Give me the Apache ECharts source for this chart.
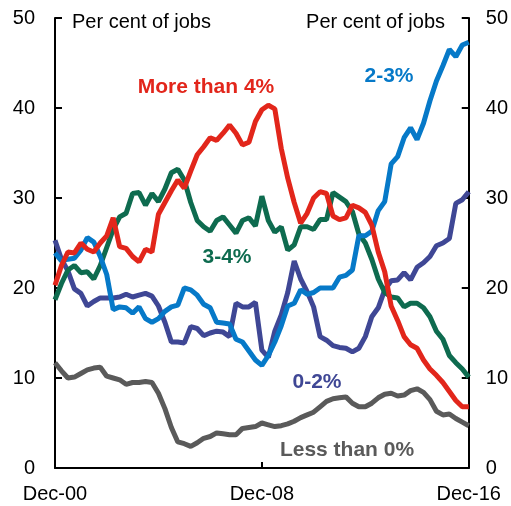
<!DOCTYPE html>
<html>
<head>
<meta charset="utf-8">
<script src="https://cdn.jsdelivr.net/npm/echarts@6/dist/echarts.min.js"></script>
<style>
  html, body { margin: 0; padding: 0; background: #fff; }
  #main { width: 511px; height: 506px; }
</style>
</head>
<body>
<div id="main"></div>
<script>
// quarterly, Dec-00 to Dec-16
const tickLabels = ['Dec-00', 'Dec-08', 'Dec-16']
const months = ['Mar', 'Jun', 'Sep', 'Dec']

const moreThan4 = [20.3, 22.5, 24, 23.9, 25, 24.3, 24, 25, 25.8, 27.8, 24.6, 24.4, 23.5, 22.9, 24.3, 24,
  28.2, 29.5, 30.8, 32, 31.1, 33, 34.8, 35.7, 36.7, 36.4, 37.2, 38.1, 37.2, 35.9, 36.2, 38.5,
  39.8, 40.3, 39.9, 35.5, 32.2, 29.5, 27.2, 28.3, 30, 30.7, 30.5, 28, 27.6, 27.8, 29.2, 28.9,
  28.4, 27, 24, 21.8, 18, 16.4, 14.6, 13.7, 13.3, 12, 11, 10.3, 9.5, 8.5, 7.5, 6.8, 6.8]
const threeTo4 = [18.7, 20.5, 22, 22.5, 21.7, 21.8, 21, 22.5, 24.5, 26.5, 27.9, 28.3, 30.5, 30.6, 29.2, 30.5,
  29.6, 31, 32.8, 33.2, 32, 29.5, 27.5, 26.8, 26.3, 27.5, 27.9, 27, 26.1, 27.5, 27.8, 26.9,
  30.2, 27.5, 26.2, 26.8, 24.2, 24.8, 26.8, 26.8, 26.5, 27.6, 27.6, 30.6, 30.1, 29.6, 28.5, 26,
  25, 23.2, 21, 19.5, 19, 18.9, 17.9, 18.3, 18.3, 17.8, 16.8, 15.2, 14.3, 12.5, 11.7, 11, 10.1]
const twoTo3 = [23.9, 23, 23.2, 23.3, 24.2, 25.6, 25.1, 23.5, 21.5, 17.6, 17.9, 17.8, 17.2, 17.9, 16.6, 16.2,
  16.6, 17.4, 17.9, 18.1, 20, 19.8, 19.2, 18.2, 17.8, 16.2, 16.1, 16, 14.3, 14, 13, 12,
  11.4, 12.5, 14, 15.8, 18, 18.3, 19.8, 19.3, 19.5, 20, 20, 20, 21.2, 21.4, 22, 25.8,
  25.8, 26.3, 28.6, 29.6, 33.8, 34.6, 36.7, 37.8, 36.5, 38.3, 40.8, 43, 44.7, 46.5, 45.7, 47, 47.3]
const zeroTo2 = [25.3, 23.2, 21.9, 19.9, 19.4, 18, 18.5, 18.9, 18.9, 18.9, 19, 19.3, 19, 19.2, 19.4, 19.1,
  18, 16.2, 14, 14, 13.9, 15.7, 15.5, 14.7, 15, 15.2, 15.1, 14.6, 18.3, 17.9, 17.9, 18.4,
  13.1, 12.3, 15.2, 17, 19.5, 23, 21, 19.6, 17.9, 14.6, 14.2, 13.6, 13.4, 13.3, 12.9, 13.3,
  14.6, 16.8, 17.8, 19.8, 20.8, 20.9, 21.7, 20.9, 22.3, 22.8, 23.5, 24.7, 25, 25.5, 29.4, 29.8, 30.7]
const lessThan0 = [11.7, 10.8, 10, 10.1, 10.5, 10.9, 11.1, 11.2, 10.2, 10, 9.8, 9.3, 9.5, 9.5, 9.6, 9.5,
  8.3, 6.6, 4.5, 2.9, 2.7, 2.4, 2.8, 3.3, 3.5, 3.9, 3.8, 3.7, 3.7, 4.4, 4.5, 4.6,
  5, 4.8, 4.6, 4.7, 4.9, 5.2, 5.6, 5.9, 6.2, 6.8, 7.4, 7.7, 7.8, 7.9, 7.2, 6.8,
  6.8, 7.2, 7.8, 8.2, 8.3, 8, 8.1, 8.6, 8.8, 8.4, 7.6, 6.3, 5.9, 6, 5.5, 5.1, 4.7]

// category labels Dec-00 ... Dec-16
let quarters = ['Dec-00']
for (let y = 1; y <= 16; y++) {
  for (let m = 0; m < 4; m++) {
    quarters.push(months[m] + '-' + String(y).padStart(2, '0'))
  }
}

const font = 'Liberation Sans, Arial, sans-serif'

let myChart = echarts.init(document.getElementById('main'))

function yAxisOpt(pos) {
  return {
    type: 'value',
    position: pos,
    min: 0,
    max: 50,
    interval: 10,
    axisLine: { show: true, lineStyle: { color: '#000', width: 2 } },
    axisTick: { show: true, inside: true, length: 7, lineStyle: { color: '#000', width: 2 } },
    axisLabel: { color: '#000', fontSize: 20, fontFamily: font, margin: pos === 'left' ? 20 : 17 },
    splitLine: { show: false }
  }
}

function line(name, data, color) {
  return {
    name: name,
    type: 'line',
    data: data,
    symbol: 'none',
    lineStyle: { color: color, width: 5 },
    itemStyle: { color: color }
  }
}

function label(text, x, y, color) {
  return {
    type: 'text',
    x: x,
    y: y,
    style: {
      text: text,
      fill: color,
      font: 'bold 21px ' + font,
      align: 'center',
      verticalAlign: 'middle'
    }
  }
}

let option = {
  animation: false,
  grid: { left: 55, right: 41, top: 18, bottom: 38 },
  xAxis: {
    type: 'category',
    data: quarters,
    boundaryGap: false,
    axisLine: { lineStyle: { color: '#000', width: 2 } },
    axisTick: { inside: true, length: 6, interval: 31, lineStyle: { color: '#000', width: 2 } },
    axisLabel: {
      interval: 31,
      color: '#000',
      fontSize: 20,
      fontFamily: font,
      margin: 16,
      formatter: function (v) { return tickLabels.indexOf(v) >= 0 ? v : '' }
    }
  },
  yAxis: [yAxisOpt('left'), yAxisOpt('right')],
  series: [
    line('Less than 0%', lessThan0, '#5a5a5a'),
    line('0-2%', zeroTo2, '#3f4795'),
    line('3-4%', threeTo4, '#0e6b4f'),
    line('2-3%', twoTo3, '#0679c8'),
    line('More than 4%', moreThan4, '#e2261b')
  ],
  graphic: [
    { type: 'text', x: 72, y: 22, style: { text: 'Per cent of jobs', fill: '#000', font: '20px ' + font, verticalAlign: 'middle' } },
    { type: 'text', x: 445, y: 22, style: { text: 'Per cent of jobs', fill: '#000', font: '20px ' + font, align: 'right', verticalAlign: 'middle' } },
    label('More than 4%', 206, 87, '#e2261b'),
    label('2-3%', 389, 76, '#0679c8'),
    label('3-4%', 227, 257, '#0e6b4f'),
    label('0-2%', 317, 382, '#3f4795'),
    label('Less than 0%', 347, 450, '#5a5a5a')
  ]
}

myChart.setOption(option)
</script>
</body>
</html>
